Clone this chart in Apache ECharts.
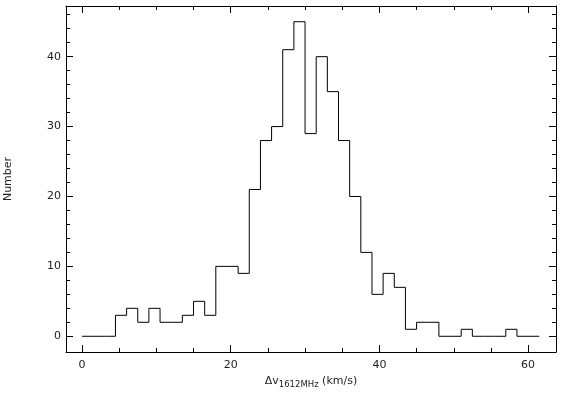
<!DOCTYPE html>
<html>
<head>
<meta charset="utf-8">
<script src="https://cdn.jsdelivr.net/npm/echarts@6/dist/echarts.min.js"></script>
<style>
html,body{margin:0;padding:0;background:#fff;}
#chart{width:570px;height:394px;}
</style>
</head>
<body>
<div id="chart"></div>
<script>
// Histogram: bin start, bin width and counts per bin
const binStart = 0;
const binWidth = 1.5;
const counts = [0,0,0,3,4,2,4,2,2,3,5,3,10,10,9,21,28,30,41,45,29,40,35,28,20,12,6,9,7,1,2,2,0,0,1,0,0,0,1,0,0];

// Axis ticks
const xMajorTicks = [0,20,40,60];
const xMinorTicks = [5,10,15,25,30,35,45,50,55];
const yMajorTicks = [0,10,20,30,40];
const yMinorTicks = [2,4,6,8,12,14,16,18,22,24,26,28,32,34,36,38,42,44,46];

const xMin = -2.15, xMax = 63.75;
const yMin = -2.25, yMax = 47.25;

const font = 'DejaVu Sans';
const textColor = '#222';

// Step points at bin edges
const stepData = counts.map((c, i) => [binStart + i * binWidth, c]);
stepData.push([binStart + counts.length * binWidth, counts[counts.length - 1]]);

function xAx(pos, ticks, len, labels, line, extra) {
  return Object.assign({
    type: 'value', position: pos, min: xMin, max: xMax,
    axisLine: {show: line, onZero: false, lineStyle: {color: '#000', width: 1}},
    axisTick: {show: true, inside: true, length: len, customValues: ticks, lineStyle: {color: '#000', width: 1}},
    axisLabel: labels ? {show: true, customValues: ticks, fontFamily: font, fontSize: 11, color: textColor, margin: 8} : {show: false},
    splitLine: {show: false}
  }, extra || {});
}
function yAx(pos, ticks, len, labels, line, extra) {
  return Object.assign({
    type: 'value', position: pos, min: yMin, max: yMax,
    axisLine: {show: line, onZero: false, lineStyle: {color: '#000', width: 1}},
    axisTick: {show: true, inside: true, length: len, customValues: ticks, lineStyle: {color: '#000', width: 1}},
    axisLabel: labels ? {show: true, customValues: ticks, fontFamily: font, fontSize: 11, color: textColor, margin: 5} : {show: false},
    splitLine: {show: false}
  }, extra || {});
}

const chart = echarts.init(document.getElementById('chart'));
chart.setOption({
  animation: false,
  backgroundColor: '#fff',
  grid: {left: 66, right: 14, top: 6, bottom: 42, containLabel: false, outerBoundsMode: 'none'},
  xAxis: [
    xAx('bottom', xMajorTicks, 7, true, true, {
      name: '{a|Δv}{s|1612MHz}{a| (km/s)}',
      nameLocation: 'middle', nameGap: 18,
      nameTextStyle: {
        rich: {
          a: {fontFamily: font, fontSize: 11, color: textColor, lineHeight: 16, verticalAlign: 'middle'},
          s: {fontFamily: font, fontSize: 8.5, color: textColor, lineHeight: 10, verticalAlign: 'bottom'}
        }
      }
    }),
    xAx('bottom', xMinorTicks, 4, false, false),
    xAx('top', xMajorTicks, 7, false, true),
    xAx('top', xMinorTicks, 4, false, false)
  ],
  yAxis: [
    yAx('left', yMajorTicks, 7, true, true, {
      name: 'Number', nameLocation: 'middle', nameGap: 52,
      nameTextStyle: {fontFamily: font, fontSize: 11, color: textColor}
    }),
    yAx('left', yMinorTicks, 4, false, false),
    yAx('right', yMajorTicks, 7, false, true),
    yAx('right', yMinorTicks, 4, false, false)
  ],
  series: [{
    type: 'line',
    xAxisIndex: 0, yAxisIndex: 0,
    step: 'end',
    data: stepData,
    symbol: 'none',
    lineStyle: {color: '#000', width: 1},
    silent: true
  }]
});
</script>
</body>
</html>
